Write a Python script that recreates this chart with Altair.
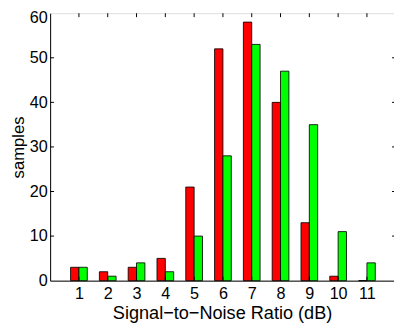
import altair as alt
import pandas as pd

snr = [1, 2, 3, 4, 5, 6, 7, 8, 9, 10, 11]
red_counts = [3, 2, 3, 5, 21, 52, 58, 40, 13, 1, 0]
green_counts = [3, 1, 4, 2, 10, 28, 53, 47, 35, 11, 4]
y_ticks = [0, 10, 20, 30, 40, 50, 60]
series_colors = ["#FF0000", "#00FF00"]

W, H = 351, 273
BW = 0.29
XMAX = 11.94

rows = []
for s, r, g in zip(snr, red_counts, green_counts):
    rows.append({"snr": s, "series": "A", "count": r, "x1": s - BW, "x2": s})
    rows.append({"snr": s, "series": "B", "count": g, "x1": s, "x2": s + BW})
df = pd.DataFrame(rows)

xscale = alt.Scale(domain=[0, XMAX], nice=False, zero=False)
yscale = alt.Scale(domain=[0, 60], nice=False)
FONT = "Liberation Sans"

xaxis = alt.Axis(values=snr, title="Signal\u2212to\u2212Noise Ratio (dB)",
                 tickSize=0, labelPadding=5, grid=False, domainColor="black",
                 labelOverlap=False, labelFlush=False,
                 labelFontSize=16.5, titleFontSize=18.5, titleFontWeight="normal",
                 labelColor="black", titleColor="black", titlePadding=2,
                 labelFont=FONT, titleFont=FONT)
yaxis = alt.Axis(values=y_ticks, title="samples", tickSize=0, labelPadding=3,
                 grid=False, domainColor="black", labelOverlap=False,
                 labelFlush=False, labelBound=False,
                 labelOffset=alt.ExprRef("datum.value == 60 ? 4 : 0"),
                 labelFontSize=16.5, titleFontSize=17, titleFontWeight="normal",
                 labelColor="black", titleColor="black", titlePadding=2,
                 labelFont=FONT, titleFont=FONT)

bars = alt.Chart(df).mark_bar(stroke="black", strokeWidth=1, strokeOpacity=0.85).encode(
    x=alt.X("x1:Q", scale=xscale, axis=xaxis),
    x2="x2:Q",
    y=alt.Y("count:Q", scale=yscale, axis=yaxis),
    y2=alt.datum(0),
    color=alt.Color("series:N", scale=alt.Scale(domain=["A", "B"], range=series_colors), legend=None),
)

ytick_df = pd.DataFrame({"v": y_ticks[1:-1]})
xtick_df = pd.DataFrame({"v": snr})

left_ticks = alt.Chart(ytick_df).mark_rule(color="black", strokeWidth=1).encode(
    y=alt.Y("v:Q", scale=yscale, axis=yaxis), x=alt.value(0), x2=alt.value(4))
right_ticks = alt.Chart(ytick_df).mark_rule(color="black", strokeWidth=1).encode(
    y=alt.Y("v:Q", scale=yscale, axis=yaxis), x=alt.value(W - 2), x2=alt.value(W + 3))
top_ticks = alt.Chart(xtick_df).mark_rule(color="black", strokeWidth=1).encode(
    x=alt.X("v:Q", scale=xscale, axis=xaxis), y=alt.value(0), y2=alt.value(4))
bottom_ticks = alt.Chart(xtick_df).mark_rule(color="black", strokeWidth=1).encode(
    x=alt.X("v:Q", scale=xscale, axis=xaxis), y=alt.value(H - 4), y2=alt.value(H))

chart = alt.layer(bars, left_ticks, right_ticks, top_ticks, bottom_ticks).properties(
    width=W, height=H,
    autosize=alt.AutoSizeParams(type="none"),
    padding={"left": 43, "top": 2, "right": 0, "bottom": 45},
).configure_view(stroke="black", strokeWidth=1).configure(background="white")

chart.save("out.html", embed_options={"renderer": "svg", "actions": False})
